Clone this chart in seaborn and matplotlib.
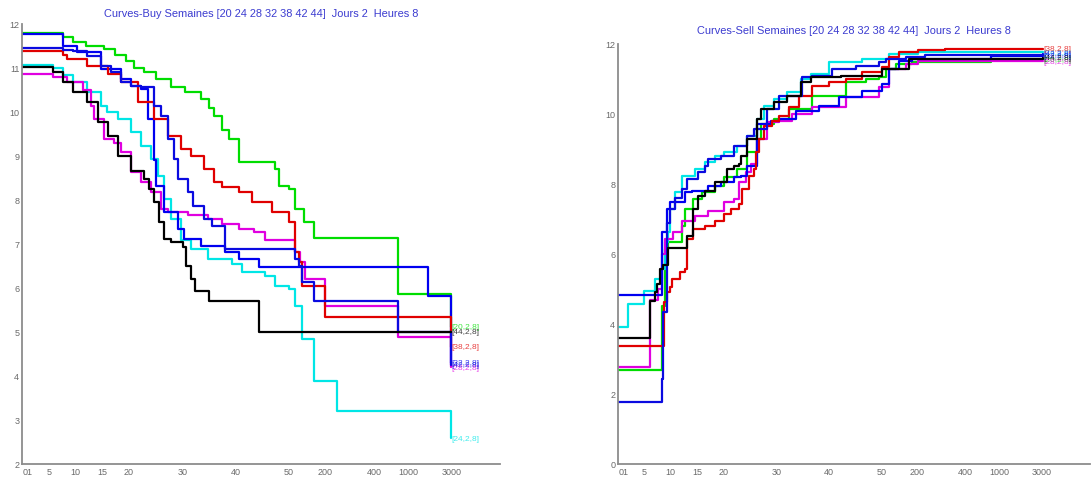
import matplotlib
matplotlib.use("Agg")
import matplotlib.pyplot as plt
import seaborn as sns
import pandas as pd

# ---------------- data ----------------
weeks = [20, 24, 28, 32, 38, 42, 44]
week_colors = {20: "#00dd00", 24: "#00e6e6", 28: "#e000e0", 32: "#0000f0",
               38: "#e00000", 42: "#0a0ae0", 44: "#000000"}

tick_pos = [1, 5, 10, 15, 20, 30, 40, 50, 56.8, 65.9, 72.3, 80.4]
tick_labels = ["01", "5", "10", "15", "20", "30", "40", "50", "200", "400", "1000", "3000"]

# Buy curves (x in axis position units, y values)
buy_x_20 = [0, 7.7, 9.5, 12, 15.3, 17.5, 19.5, 21, 22.8, 25, 27.9, 30.5, 33.6, 35, 36, 37.5, 38.7, 40.6, 47.4, 48.1, 50, 51.1, 52.8, 54.7, 70.4, 80.4]
buy_y_20 = [11.8, 11.7, 11.6, 11.5, 11.43, 11.3, 11.15, 11.0, 10.9, 10.75, 10.57, 10.45, 10.3, 10.1, 9.9, 9.6, 9.39, 8.86, 8.7, 8.32, 8.25, 7.8, 7.5, 7.14, 5.86, 5.12]

buy_x_24 = [0, 5.85, 7.7, 9.62, 12.26, 14.72, 16.0, 17.92, 20.38, 22.26, 24.15, 25.47, 26.6, 27.92, 29.81, 31.7, 34.91, 39.25, 41.1, 45.47, 47.36, 50.0, 51.13, 52.45, 54.72, 59.06, 80.4]
buy_y_24 = [11.07, 11.0, 10.85, 10.68, 10.45, 10.14, 10.0, 9.84, 9.55, 9.23, 8.93, 8.55, 8.02, 7.57, 7.1, 6.89, 6.66, 6.55, 6.36, 6.27, 6.05, 5.98, 5.59, 4.84, 3.89, 3.2, 2.58]

buy_x_28 = [0, 5.85, 8.49, 11.51, 12.83, 13.4, 15.28, 17.17, 18.49, 20.38, 22.26, 24.15, 26.04, 27.36, 31.13, 34.91, 37.36, 40.57, 43.5, 45.47, 51.13, 52.0, 53.02, 56.79, 70.38, 80.4]
buy_y_28 = [10.86, 10.8, 10.68, 10.5, 10.14, 9.84, 9.39, 9.3, 9.1, 8.64, 8.41, 8.18, 7.8, 7.73, 7.65, 7.57, 7.45, 7.34, 7.27, 7.1, 6.82, 6.6, 6.2, 5.59, 4.89, 4.2]

buy_x_32 = [0, 7.74, 10.38, 14.72, 18.49, 20.38, 22.26, 23.58, 24.72, 25.09, 26.6, 29.25, 30.38, 33.58, 37.92, 40.57, 44.34, 76.04, 80.4]
buy_y_32 = [11.77, 11.5, 11.36, 10.98, 10.75, 10.59, 10.52, 9.84, 8.9, 8.32, 7.73, 7.34, 7.11, 6.95, 6.82, 6.66, 6.48, 5.82, 4.3]

buy_x_38 = [0, 7.74, 8.49, 12.26, 16.04, 18.49, 21.7, 24.72, 27.36, 29.81, 31.7, 34.15, 36.04, 37.5, 40.57, 43.02, 46.79, 50.0, 51.13, 51.9, 52.45, 56.79, 80.4]
buy_y_38 = [11.39, 11.3, 11.2, 11.05, 10.86, 10.68, 10.23, 9.84, 9.45, 9.16, 9.0, 8.7, 8.41, 8.3, 8.18, 7.95, 7.73, 7.5, 6.82, 6.59, 6.05, 5.34, 4.66]

buy_x_42 = [0, 7.74, 9.62, 12.26, 14.72, 16.6, 18.49, 20.38, 22.26, 24.72, 26.04, 27.36, 28.49, 29.25, 31.13, 32.1, 34.15, 35.5, 37.92, 51.13, 51.89, 52.45, 54.72, 70.38, 80.4]
buy_y_42 = [11.45, 11.42, 11.39, 11.27, 11.05, 10.9, 10.68, 10.59, 10.57, 10.14, 9.91, 9.39, 8.93, 8.48, 8.18, 7.86, 7.57, 7.41, 6.89, 6.66, 6.5, 6.14, 5.7, 5.0, 4.25]

buy_x_44 = [0, 5.85, 7.74, 9.62, 12.26, 14.15, 16.04, 17.92, 20.38, 22.8, 23.8, 24.7, 25.7, 26.6, 27.9, 30.2, 30.8, 31.7, 32.3, 35.1, 44.3, 80.4]
buy_y_44 = [11.02, 10.9, 10.68, 10.45, 10.23, 9.77, 9.45, 9.0, 8.66, 8.48, 8.25, 7.95, 7.5, 7.11, 7.05, 6.93, 6.5, 6.2, 5.93, 5.7, 5.0, 5.0]

# Sell curves
sell_x_20 = [0, 8.3, 8.87, 9.43, 12.08, 12.64, 14.15, 15.85, 18.3, 20.19, 22.64, 24.53, 26.42, 27.17, 29.62, 32.45, 36.79, 43.21, 46.98, 49.43, 50.75, 52.64, 55.66, 70.75, 80.6]
sell_y_20 = [2.69, 4.51, 6.14, 6.34, 6.8, 7.29, 7.57, 7.77, 7.94, 8.2, 8.43, 8.91, 9.29, 9.71, 9.86, 10.14, 10.51, 10.91, 11.0, 11.06, 11.29, 11.43, 11.49, 11.57, 11.57]

sell_x_24 = [0, 1.89, 4.91, 6.98, 8.3, 8.87, 9.43, 9.81, 10.75, 12.08, 14.53, 16.42, 18.3, 20.19, 22.64, 24.53, 26.42, 27.74, 29.62, 32.08, 34.72, 36.6, 40.0, 46.23, 51.32, 56.98, 80.6]
sell_y_24 = [3.91, 4.57, 4.94, 5.29, 5.57, 6.34, 6.63, 7.29, 7.77, 8.23, 8.43, 8.63, 8.8, 8.91, 9.09, 9.37, 9.86, 10.23, 10.43, 10.63, 11.0, 11.14, 11.49, 11.57, 11.71, 11.77, 11.77]

sell_x_28 = [0, 6.04, 7.5, 8.3, 8.87, 10.38, 12.08, 14.53, 16.98, 20.19, 22.08, 23.02, 24.34, 25.28, 26.42, 28.3, 30.57, 33.0, 36.79, 43.21, 49.43, 51.32, 54.53, 56.98, 80.6]
sell_y_28 = [2.77, 4.7, 5.0, 6.0, 6.43, 6.63, 6.94, 7.09, 7.23, 7.49, 7.57, 8.06, 8.34, 8.57, 9.29, 9.77, 9.8, 10.0, 10.2, 10.49, 10.77, 11.29, 11.43, 11.51, 11.51]

sell_x_32 = [0, 8.3, 9.25, 9.81, 12.64, 13.96, 16.98, 19.62, 22.08, 23.4, 24.53, 26.42, 29.06, 30.57, 33.77, 38.11, 41.89, 46.23, 50.0, 51.32, 53.21, 55.66, 70.75, 80.6]
sell_y_32 = [4.83, 6.63, 7.29, 7.49, 7.77, 7.8, 7.94, 8.06, 8.2, 8.23, 8.51, 9.71, 9.8, 9.85, 10.09, 10.23, 10.49, 10.66, 10.86, 11.29, 11.51, 11.57, 11.66, 11.66]

sell_x_38 = [0, 8.8, 9.2, 9.81, 10.19, 11.7, 12.64, 13.02, 14.15, 16.42, 18.3, 20.19, 21.51, 23.02, 23.58, 24.91, 25.85, 26.23, 26.79, 27.74, 29.25, 30.57, 32.5, 34.34, 36.79, 40.0, 43.21, 46.23, 50.0, 51.32, 53.21, 56.98, 62.0, 80.6]
sell_y_38 = [3.37, 4.63, 4.91, 5.06, 5.29, 5.49, 5.57, 6.43, 6.71, 6.8, 6.94, 7.14, 7.29, 7.43, 7.86, 8.23, 8.43, 8.91, 9.29, 9.66, 9.8, 9.94, 10.2, 10.51, 10.8, 10.91, 11.0, 11.2, 11.34, 11.63, 11.77, 11.83, 11.86, 11.86]

sell_x_42 = [0, 8.3, 8.49, 9.25, 9.81, 10.75, 12.08, 13.02, 15.09, 16.42, 16.98, 19.62, 22.08, 24.53, 25.85, 28.3, 30.57, 34.91, 36.79, 40.57, 45.09, 49.43, 50.75, 54.53, 58.3, 80.6]
sell_y_42 = [1.77, 2.43, 4.34, 6.9, 7.29, 7.6, 7.86, 8.14, 8.34, 8.51, 8.71, 8.8, 9.09, 9.37, 9.57, 10.14, 10.51, 11.06, 11.09, 11.29, 11.37, 11.49, 11.57, 11.63, 11.7, 11.72]

sell_x_44 = [0, 6.04, 6.98, 7.36, 7.92, 8.49, 9.43, 13.02, 14.15, 15.09, 16.42, 18.3, 20.75, 22.08, 23.02, 23.4, 24.53, 26.42, 27.17, 29.62, 32.08, 34.72, 36.6, 42.26, 50.0, 55.09, 80.6]
sell_y_44 = [3.6, 4.66, 4.91, 5.14, 5.57, 5.7, 6.17, 6.51, 7.29, 7.66, 7.8, 8.06, 8.43, 8.51, 8.57, 8.8, 9.29, 9.86, 10.14, 10.34, 10.51, 10.91, 11.06, 11.1, 11.3, 11.57, 11.6]

buy_series = {20: (buy_x_20, buy_y_20), 24: (buy_x_24, buy_y_24), 28: (buy_x_28, buy_y_28),
              32: (buy_x_32, buy_y_32), 38: (buy_x_38, buy_y_38), 42: (buy_x_42, buy_y_42),
              44: (buy_x_44, buy_y_44)}
sell_series = {20: (sell_x_20, sell_y_20), 24: (sell_x_24, sell_y_24), 28: (sell_x_28, sell_y_28),
               32: (sell_x_32, sell_y_32), 38: (sell_x_38, sell_y_38), 42: (sell_x_42, sell_y_42),
               44: (sell_x_44, sell_y_44)}

title_buy = "Curves-Buy Semaines [20 24 28 32 38 42 44]  Jours 2  Heures 8"
title_sell = "Curves-Sell Semaines [20 24 28 32 38 42 44]  Jours 2  Heures 8"

# ---------------- plot ----------------
sns.set_style("white")
plt.rcParams["font.family"] = ["Liberation Sans", "DejaVu Sans"]

W, H = 1092, 481
fig = plt.figure(figsize=(W / 100, H / 100), dpi=100)
ax1 = fig.add_axes([22 / W, 1 - 465 / H, 478 / W, 440 / H])
ax2 = fig.add_axes([618 / W, 1 - 465 / H, 472 / W, 420 / H])

axis_grey = "#8c8c8c"
title_col = "#3b3bd0"


def draw(ax, series, ylim, yticks, title, title_pad):
    for w in weeks:
        xs, ys = series[w]
        df = pd.DataFrame({"x": xs, "y": ys})
        sns.lineplot(data=df, x="x", y="y", ax=ax, estimator=None, sort=False,
                     drawstyle="steps-post", color=week_colors[w], lw=1.6)
        ax.text(xs[-1] + 0.05, ys[-1], f"[{w},2,8]", color=week_colors[w],
                fontsize=6, va="center", ha="left", alpha=0.75)
    ax.set_xlim(0, 89.5)
    ax.set_ylim(*ylim)
    ax.set_xticks(tick_pos)
    ax.set_xticklabels(tick_labels)
    ax.set_yticks(yticks)
    ax.set_yticklabels([str(t) for t in yticks])
    ax.set_xlabel("")
    ax.set_ylabel("")
    for s in ["top", "right"]:
        ax.spines[s].set_visible(False)
    for s in ["left", "bottom"]:
        ax.spines[s].set_color(axis_grey)
        ax.spines[s].set_linewidth(1.3)
    ax.tick_params(direction="in", length=4, width=0.8, color="#777777",
                   labelcolor="#6a6a6a", labelsize=6.5, pad=2)
    ax.set_title(title, color=title_col, fontsize=7.9, pad=title_pad)


draw(ax1, buy_series, (2, 12), list(range(2, 13)), title_buy, 6)
draw(ax2, sell_series, (0, 12), list(range(0, 13, 2)), title_sell, 8)

fig.savefig("out.png", dpi=100)
